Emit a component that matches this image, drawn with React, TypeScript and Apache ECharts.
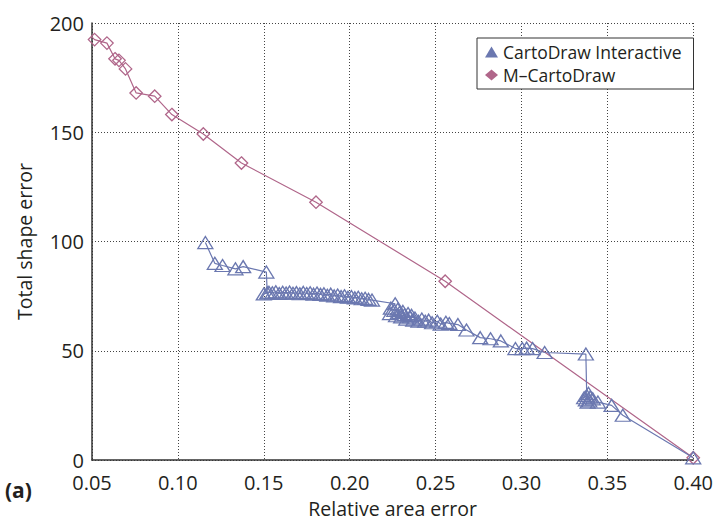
import React, { useEffect, useRef } from "react";
import * as echarts from "echarts";

const xTicks = [0.05, 0.1, 0.15, 0.2, 0.25, 0.3, 0.35, 0.4];
const yTicks = [0, 50, 100, 150, 200];

const mCartoX = [0.049, 0.0515, 0.0587, 0.0634, 0.0657, 0.0695, 0.0757, 0.0865, 0.0965, 0.1148, 0.137, 0.1804, 0.2556, 0.4];
const mCartoY = [194.3, 192.4, 190.8, 183.6, 182.9, 179, 168, 166.5, 158.1, 149.2, 135.9, 118, 81.8, 1];

const interX = [
  0.116, 0.1215, 0.126, 0.1335, 0.138, 0.1515, 0.152,
  0.15, 0.153, 0.155, 0.157, 0.159, 0.161, 0.163, 0.165, 0.167, 0.169, 0.171, 0.173, 0.175, 0.177, 0.179,
  0.181, 0.183, 0.185, 0.187, 0.189, 0.191, 0.193, 0.195, 0.197, 0.199, 0.201, 0.203, 0.205, 0.207, 0.209,
  0.211, 0.213,
  0.2265,
  0.224, 0.226, 0.228, 0.229, 0.231, 0.232, 0.234, 0.235, 0.236, 0.238, 0.2235, 0.227, 0.23, 0.233, 0.237,
  0.24, 0.242, 0.244, 0.246, 0.248, 0.251, 0.253, 0.256, 0.258, 0.263, 0.268, 0.276, 0.282, 0.288,
  0.2965, 0.3005, 0.303, 0.3065, 0.3135, 0.3375,
  0.338, 0.3365, 0.339, 0.3375, 0.34, 0.3395, 0.3415, 0.3385, 0.3445, 0.3525, 0.359, 0.4,
];
const interY = [
  99.5, 90, 89, 87.5, 88.5, 86, 76.5,
  76, 76.8, 76.5, 77, 76.2, 76.8, 76.4, 76.9, 76.3, 76.6, 76.1, 76.7, 76.2, 76.5, 75.9,
  76.4, 75.8, 76.1, 75.4, 75.9, 75.1, 75.5, 74.8, 75.2, 74.5, 74.8, 74.2, 74.5, 73.8, 74.0,
  73.5, 73.2,
  71.5,
  69.5, 68.5, 69, 67.5, 68, 66.5, 67, 65.5, 66.2, 65, 67, 66, 65.5, 64.5, 64,
  63.5, 64.5, 63.5, 64, 62.8, 63.5, 62.2, 63, 62.5, 62, 59.5, 56, 55.5, 54.5,
  51, 51, 51.2, 51, 49.2, 48.5,
  29.5, 28.5, 30.5, 27.5, 28.8, 27, 28, 26.5, 26.5, 25, 20.5, 1,
];

const BLUE = "#6b78b0";
const PINK = "#b0668a";
const FONT = "'Open Sans', 'Noto Sans', sans-serif";

export default function App() {
  const ref = useRef<HTMLDivElement>(null);
  useEffect(() => {
    if (!ref.current) return;
    const chart = echarts.init(ref.current, undefined, { renderer: "svg" });
    const pair = (xs: number[], ys: number[]) => xs.map((x, i) => [x, ys[i]]);
    chart.setOption({
      animation: false,
      backgroundColor: "#ffffff",
      textStyle: { fontFamily: FONT },
      grid: { left: 92, right: 20, top: 23, bottom: 61 },
      xAxis: {
        type: "value",
        min: xTicks[0],
        max: xTicks[xTicks.length - 1],
        interval: 0.05,
        name: "Relative area error",
        nameLocation: "middle",
        nameGap: 38,
        nameTextStyle: { fontSize: 19.5, color: "#231f20", fontFamily: FONT },
        axisLine: { show: true, onZero: false, lineStyle: { color: "#333", width: 1.5 } },
        axisTick: { show: false },
        axisLabel: {
          fontSize: 20,
          lineHeight: 20,
          color: "#231f20",
          margin: 12,
          fontFamily: FONT,
          formatter: (v: number) => v.toFixed(2),
        },
        splitLine: { show: true, lineStyle: { color: "#444", width: 1, type: [1, 2] } },
      },
      yAxis: {
        type: "value",
        min: yTicks[0],
        max: yTicks[yTicks.length - 1],
        interval: 50,
        name: "Total shape error",
        nameLocation: "middle",
        nameGap: 58,
        nameTextStyle: { fontSize: 19.5, color: "#231f20", fontFamily: FONT },
        axisLine: { show: true, onZero: false, lineStyle: { color: "#333", width: 1.5 } },
        axisTick: { show: false },
        axisLabel: { fontSize: 20, lineHeight: 16, color: "#231f20", margin: 8, fontFamily: FONT },
        splitLine: { show: true, lineStyle: { color: "#444", width: 1, type: [1, 2] } },
      },
      legend: {
        orient: "vertical",
        left: 477,
        top: 38,
        width: 205,
        padding: [5, 12, 5, 8],
        itemGap: 5,
        itemWidth: 13,
        itemHeight: 11,
        backgroundColor: "#ffffff",
        borderColor: "#333",
        borderWidth: 1,
        borderRadius: 0,
        textStyle: { fontSize: 17.5, color: "#231f20", fontFamily: FONT },
        data: [
          { name: "CartoDraw Interactive", icon: "triangle", itemStyle: { color: BLUE, borderWidth: 0 } },
          { name: "M\u2013CartoDraw", icon: "diamond", itemStyle: { color: PINK, borderWidth: 0 } },
        ],
      },
      series: [
        {
          name: "M\u2013CartoDraw",
          type: "line",
          data: pair(mCartoX, mCartoY),
          symbol: "diamond",
          symbolSize: 12.5,
          color: PINK,
          lineStyle: { color: PINK, width: 1.2 },
          itemStyle: { color: "rgba(255,255,255,0)", borderColor: PINK, borderWidth: 1.3 },
          z: 2,
        },
        {
          name: "CartoDraw Interactive",
          type: "line",
          data: pair(interX, interY),
          symbol: "triangle",
          symbolSize: [15, 12],
          color: BLUE,
          lineStyle: { color: BLUE, width: 1.2 },
          itemStyle: { color: "rgba(255,255,255,0)", borderColor: BLUE, borderWidth: 1.3 },
          z: 3,
        },
      ],
      graphic: [
        {
          type: "text",
          left: 5,
          top: 479,
          style: { text: "(a)", fontSize: 21, fontWeight: "bold", fill: "#231f20", fontFamily: FONT },
        },
      ],
    });
    return () => chart.dispose();
  }, []);
  return (
    <div
      ref={ref}
      style={{ position: "fixed", left: 0, top: 0, width: 716, height: 523 }}
    />
  );
}
